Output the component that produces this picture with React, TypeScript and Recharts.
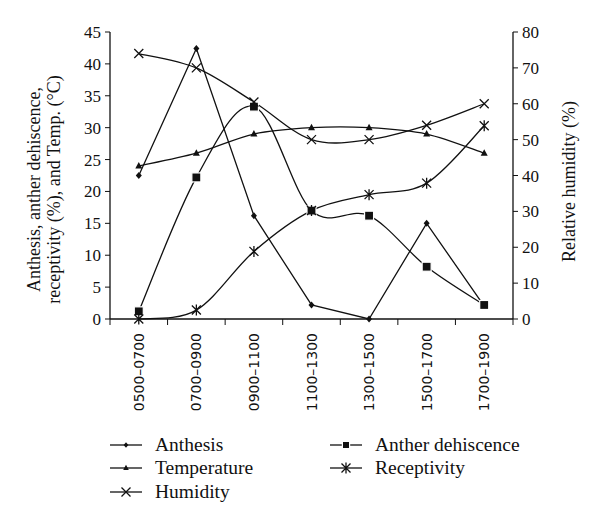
import React from "react";
import { Legend, Line, LineChart, XAxis, YAxis } from "recharts";

const CATEGORIES = ["0500–0700", "0700–0900", "0900–1100", "1100–1300", "1300–1500", "1500–1700", "1700–1900"];
const ANTHESIS = [22.5, 42.4, 16.2, 2.2, 0, 15, 2];
const ANTHER = [1.2, 22.2, 33.3, 17, 16.2, 8.2, 2.2];
const TEMPERATURE = [24, 26, 29, 30, 30, 29, 26];
const RECEPTIVITY = [0, 1.4, 10.6, 17, 19.5, 21.3, 30.3];
const HUMIDITY = [74, 70, 60.5, 50, 50, 54, 60];
const LEFT_TICKS = [0, 5, 10, 15, 20, 25, 30, 35, 40, 45];
const RIGHT_TICKS = [0, 10, 20, 30, 40, 50, 60, 70, 80];

const data = CATEGORIES.map((c, i) => ({
  pos: i + 0.5,
  name: c,
  anthesis: ANTHESIS[i],
  anther: ANTHER[i],
  temperature: TEMPERATURE[i],
  receptivity: RECEPTIVITY[i],
  humidity: HUMIDITY[i],
}));

// tick positions: band edges (integers) get tick marks, centres (halves) get labels
const X_TICKS = Array.from({ length: CATEGORIES.length * 2 + 1 }, (_, i) => i / 2);

const INK = "#111";
const SERIF = "'Liberation Serif', 'DejaVu Serif', serif";
const SANS = "'DejaVu Sans', Verdana, sans-serif";

type Shape = "diamond" | "square" | "triangle" | "star" | "x";

const SERIES: { key: string; label: string; shape: Shape; axis: string; smooth: boolean }[] = [
  { key: "anthesis", label: "Anthesis", shape: "diamond", axis: "left", smooth: false },
  { key: "anther", label: "Anther dehiscence", shape: "square", axis: "left", smooth: true },
  { key: "temperature", label: "Temperature", shape: "triangle", axis: "left", smooth: true },
  { key: "receptivity", label: "Receptivity", shape: "star", axis: "left", smooth: true },
  { key: "humidity", label: "Humidity", shape: "x", axis: "right", smooth: true },
];

// Excel-like smoothing (Catmull-Rom through the points)
function smoothCurve(context: any) {
  let pts: number[][] = [];
  return {
    areaStart() {},
    areaEnd() {},
    lineStart() {
      pts = [];
    },
    point(x: number, y: number) {
      pts.push([+x, +y]);
    },
    lineEnd() {
      const n = pts.length;
      if (!n) return;
      context.moveTo(pts[0][0], pts[0][1]);
      for (let i = 0; i < n - 1; i++) {
        const p0 = pts[i - 1] || pts[i];
        const p1 = pts[i];
        const p2 = pts[i + 1];
        const p3 = pts[i + 2] || p2;
        context.bezierCurveTo(
          p1[0] + (p2[0] - p0[0]) / 6,
          p1[1] + (p2[1] - p0[1]) / 6,
          p2[0] - (p3[0] - p1[0]) / 6,
          p2[1] - (p3[1] - p1[1]) / 6,
          p2[0],
          p2[1]
        );
      }
    },
  };
}

function Marker({ shape, cx, cy, k = 1 }: { shape: Shape; cx: number; cy: number; k?: number }) {
  switch (shape) {
    case "diamond":
      return (
        <path d={`M${cx},${cy - 3.5 * k}L${cx + 3 * k},${cy}L${cx},${cy + 3.5 * k}L${cx - 3 * k},${cy}Z`} fill={INK} />
      );
    case "triangle":
      return (
        <path d={`M${cx},${cy - 4 * k}L${cx + 3.5 * k},${cy + 2.5 * k}L${cx - 3.5 * k},${cy + 2.5 * k}Z`} fill={INK} />
      );
    case "square":
      return (
        <rect x={cx - 4.5 * k} y={cy - 4.5 * k} width={9 * k} height={9 * k} fill={INK} stroke="#fff" strokeWidth={1.2} />
      );
    case "x":
      return (
        <path
          d={`M${cx - 4.5},${cy - 4.5}L${cx + 4.5},${cy + 4.5}M${cx + 4.5},${cy - 4.5}L${cx - 4.5},${cy + 4.5}`}
          stroke={INK}
          strokeWidth={1.3}
          fill="none"
        />
      );
    case "star":
      return (
        <path
          d={`M${cx - 4.5},${cy - 4.5}L${cx + 4.5},${cy + 4.5}M${cx + 4.5},${cy - 4.5}L${cx - 4.5},${cy + 4.5}M${cx},${cy - 5.5}L${cx},${cy + 5.5}`}
          stroke={INK}
          strokeWidth={1.3}
          fill="none"
        />
      );
  }
  return null;
}

const dotFor = (shape: Shape) => (props: any) => (
  <g key={`${shape}-${props.index}`}>
    <Marker shape={shape} cx={props.cx} cy={props.cy} />
  </g>
);

function XTick(props: any) {
  const { x, y, payload } = props;
  const v = payload.value;
  if (Number.isInteger(v)) {
    return <line x1={x} y1={y} x2={x} y2={y + 6} stroke={INK} strokeWidth={1} />;
  }
  const label = CATEGORIES[Math.floor(v)];
  const ty = y + 14;
  return (
    <text
      x={x}
      y={ty}
      dy="0.36em"
      textAnchor="end"
      transform={`rotate(-90, ${x}, ${ty})`}
      fontFamily={SANS}
      fontSize={14}
      fill={INK}
    >
      {label}
    </text>
  );
}

function LeftLabel(props: any) {
  const { viewBox } = props;
  const cy = viewBox.y + viewBox.height / 2 + 14;
  const x1 = viewBox.x + 34;
  const x2 = viewBox.x + 54;
  return (
    <g fontFamily={SERIF} fontSize={18} fill={INK} textAnchor="middle">
      <text x={x1} y={cy} dy="0.35em" transform={`rotate(-90, ${x1}, ${cy})`}>
        Anthesis, anther dehiscence,
      </text>
      <text x={x2} y={cy} dy="0.35em" transform={`rotate(-90, ${x2}, ${cy})`}>
        receptivity (%), and Temp. (°C)
      </text>
    </g>
  );
}

function RightLabel(props: any) {
  const { viewBox } = props;
  const cy = viewBox.y + viewBox.height / 2 + 6;
  const x = viewBox.x + 56;
  return (
    <text
      x={x}
      y={cy}
      dy="0.35em"
      textAnchor="middle"
      transform={`rotate(-90, ${x}, ${cy})`}
      fontFamily={SERIF}
      fontSize={18}
      fill={INK}
    >
      Relative humidity (%)
    </text>
  );
}

function LegendBox() {
  return (
    <div
      style={{
        display: "grid",
        gridTemplateColumns: "220px 240px",
        paddingLeft: 109,
        height: 71,
        fontFamily: SERIF,
        fontSize: 19.5,
        color: INK,
      }}
    >
      {SERIES.map((s) => (
        <div key={s.key} style={{ display: "flex", alignItems: "center", height: 23.5 }}>
          <svg width={34} height={14} style={{ marginRight: 12 }}>
            <line x1={1} y1={7} x2={33} y2={7} stroke={INK} strokeWidth={1.3} />
            <Marker shape={s.shape} cx={17} cy={7} k={0.8} />
          </svg>
          <span>{s.label}</span>
        </div>
      ))}
    </div>
  );
}

export default function App() {
  return (
    <div style={{ position: "absolute", left: 0, top: 0, width: 600, height: 526, background: "#fff" }}>
      <LineChart width={600} height={526} data={data} margin={{ top: 32, right: 0, left: 0, bottom: 22 }}>
        <XAxis
          dataKey="pos"
          type="number"
          domain={[0, CATEGORIES.length]}
          ticks={X_TICKS}
          interval={0}
          tick={<XTick />}
          tickLine={false}
          tickSize={0}
          tickMargin={0}
          axisLine={{ stroke: INK, strokeWidth: 1.3 }}
          height={114}
        />
        <YAxis
          yAxisId="left"
          domain={[0, 45]}
          ticks={LEFT_TICKS}
          interval={0}
          width={110}
          tickSize={5}
          tickMargin={4}
          tickLine={{ stroke: INK }}
          axisLine={{ stroke: INK, strokeWidth: 1.3 }}
          tick={{ fill: INK, fontSize: 17, fontFamily: SERIF }}
          label={<LeftLabel />}
        />
        <YAxis
          yAxisId="right"
          orientation="right"
          domain={[0, 80]}
          ticks={RIGHT_TICKS}
          interval={0}
          width={87}
          tickSize={5}
          tickMargin={4}
          tickLine={{ stroke: INK }}
          axisLine={{ stroke: INK, strokeWidth: 1.3 }}
          tick={{ fill: INK, fontSize: 17, fontFamily: SERIF }}
          label={<RightLabel />}
        />
        <Legend verticalAlign="bottom" align="left" content={<LegendBox />} />
        {SERIES.map((s) => (
          <Line
            key={s.key}
            yAxisId={s.axis}
            dataKey={s.key}
            name={s.label}
            type={s.smooth ? (smoothCurve as any) : "linear"}
            stroke={INK}
            strokeWidth={1.3}
            dot={dotFor(s.shape)}
            activeDot={false}
            isAnimationActive={false}
          />
        ))}
      </LineChart>
    </div>
  );
}
